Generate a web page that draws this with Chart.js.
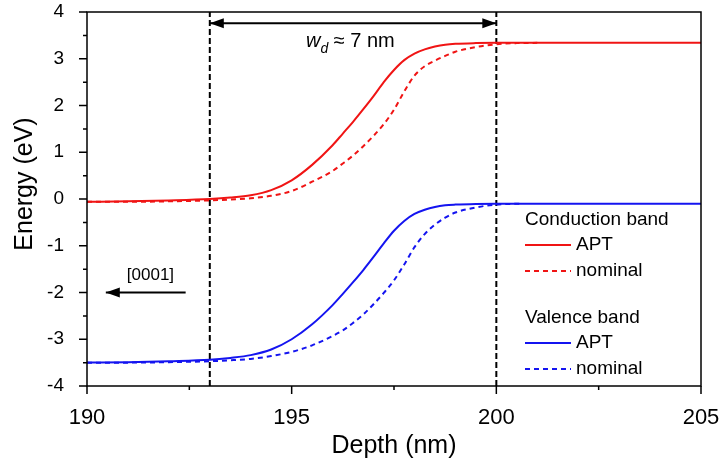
<!DOCTYPE html>
<html>
<head>
<meta charset="utf-8">
<script src="https://cdn.jsdelivr.net/npm/chart.js@4/dist/chart.umd.min.js"></script>
<style>
  html, body { margin: 0; padding: 0; background: #fff; }
  #wrap { width: 722px; height: 467px; }
</style>
</head>
<body>
<div id="wrap"><canvas id="chart" width="722" height="467"></canvas></div>
<script>
// depth positions (nm)
const depthAPT = [190, 191, 192, 193, 193.5, 194, 194.5, 195, 195.5, 196, 196.25, 196.5, 196.75, 197, 197.25, 197.5, 197.75, 198, 198.25, 198.5, 198.75, 199, 199.5, 200, 201, 202, 203, 204, 205];
const depthCbNominal = [190, 191, 192, 193, 193.5, 194, 194.5, 195, 195.5, 196, 196.25, 196.5, 196.75, 197, 197.25, 197.5, 197.75, 198, 198.25, 198.5, 198.75, 199, 199.5, 200, 200.5, 201];
const depthVbNominal = [190, 191, 192, 193, 193.5, 194, 194.5, 195, 195.5, 196, 196.25, 196.5, 196.75, 197, 197.25, 197.5, 197.75, 198, 198.25, 198.5, 198.75, 199, 199.5, 200, 200.6];

// band energies (eV)
const cbAPT = [-0.06, -0.05, -0.03, 0.00, 0.03, 0.08, 0.19, 0.40, 0.73, 1.15, 1.40, 1.65, 1.92, 2.20, 2.50, 2.76, 2.97, 3.11, 3.20, 3.26, 3.30, 3.32, 3.335, 3.34, 3.34, 3.34, 3.34, 3.34, 3.34];
const cbNominal = [-0.06, -0.06, -0.05, -0.03, -0.01, 0.015, 0.07, 0.17, 0.37, 0.60, 0.76, 0.93, 1.13, 1.35, 1.60, 1.91, 2.30, 2.64, 2.84, 2.96, 3.06, 3.15, 3.25, 3.31, 3.335, 3.34];
const vbAPT = [-3.50, -3.49, -3.47, -3.44, -3.40, -3.34, -3.22, -3.00, -2.68, -2.27, -2.03, -1.78, -1.52, -1.24, -0.95, -0.68, -0.47, -0.32, -0.23, -0.17, -0.135, -0.12, -0.105, -0.10, -0.10, -0.10, -0.10, -0.10, -0.10];
const vbNominal = [-3.50, -3.50, -3.49, -3.47, -3.45, -3.42, -3.36, -3.27, -3.13, -2.93, -2.81, -2.65, -2.47, -2.25, -2.01, -1.74, -1.40, -1.03, -0.75, -0.55, -0.40, -0.29, -0.18, -0.12, -0.10];

// depletion width markers
const markerDepths = [193, 200];
const wdArrow = { from: 193, to: 200, y: 3.76 };
const dirArrow = { from: 192.41, to: 190.46, y: -2.0 };
const dirLabel = { text: "[0001]", x: 191.55, y: -1.63 };

const xTicks = [190, 195, 200, 205];
const yTicks = [-4, -3, -2, -1, 0, 1, 2, 3, 4];

const RED = "#f01414";
const BLUE = "#1414f0";
const FONT = "Arial, 'Liberation Sans', sans-serif";

function pts(xs, ys) {
  return xs.map((x, i) => ({ x: x, y: ys[i] }));
}

const markerSets = markerDepths.map(d => ({
  data: [{ x: d, y: -4 }, { x: d, y: 4 }],
  borderColor: "#000",
  borderWidth: 2,
  borderDash: [6, 3],
  pointRadius: 0,
  showLine: true,
}));

const framePlugin = {
  id: "frame",
  afterDraw(chart) {
    const ctx = chart.ctx;
    const a = chart.chartArea;
    const xs = chart.scales.x, ys = chart.scales.y;
    ctx.save();
    ctx.strokeStyle = "#000";
    ctx.lineWidth = 1.5;
    ctx.strokeRect(a.left, a.top, a.right - a.left, a.bottom - a.top);

    // ticks
    ctx.lineWidth = 1.5;
    ctx.beginPath();
    for (let v = -4; v <= 4; v += 0.5) {
      const py = ys.getPixelForValue(v);
      const len = Number.isInteger(v) ? 8 : 4;
      ctx.moveTo(a.left - len, py); ctx.lineTo(a.left, py);
    }
    for (let v = 190; v <= 205; v += 2.5) {
      const px = xs.getPixelForValue(v);
      const len = v % 5 === 0 ? 8 : 4;
      ctx.moveTo(px, a.bottom); ctx.lineTo(px, a.bottom + len);
    }
    ctx.stroke();

    // arrows
    function arrow(x1, x2, y, both) {
      const p1 = xs.getPixelForValue(x1), p2 = xs.getPixelForValue(x2), py = ys.getPixelForValue(y);
      ctx.lineWidth = 2;
      ctx.beginPath();
      ctx.moveTo(p1, py); ctx.lineTo(p2, py);
      ctx.stroke();
      function head(tip, dir) {
        ctx.beginPath();
        ctx.moveTo(tip, py);
        ctx.lineTo(tip - dir * 14, py - 5);
        ctx.lineTo(tip - dir * 14, py + 5);
        ctx.closePath();
        ctx.fill();
      }
      ctx.fillStyle = "#000";
      head(p2, Math.sign(p2 - p1));
      if (both) head(p1, Math.sign(p1 - p2));
    }
    arrow(wdArrow.from, wdArrow.to, wdArrow.y, true);
    arrow(dirArrow.from, dirArrow.to, dirArrow.y, false);

    ctx.fillStyle = "#000";
    ctx.textAlign = "center";
    ctx.textBaseline = "middle";
    ctx.font = "17px " + FONT;
    ctx.fillText(dirLabel.text, xs.getPixelForValue(dirLabel.x), ys.getPixelForValue(dirLabel.y));

    // w_d label
    let tx = 306, ty = 47;
    ctx.textAlign = "left";
    ctx.textBaseline = "alphabetic";
    ctx.font = "italic 20px " + FONT;
    ctx.fillText("w", tx, ty);
    tx += ctx.measureText("w").width;
    ctx.font = "italic 14px " + FONT;
    ctx.fillText("d", tx, ty + 6);
    tx += ctx.measureText("d").width;
    ctx.font = "20px " + FONT;
    ctx.fillText(" \u2248 7 nm", tx, ty);

    // axis titles
    ctx.font = "25px " + FONT;
    ctx.textAlign = "center";
    ctx.textBaseline = "middle";
    ctx.fillText("Depth (nm)", (a.left + a.right) / 2, 446);
    ctx.save();
    ctx.translate(25, 184);
    ctx.rotate(-Math.PI / 2);
    ctx.fillText("Energy (eV)", 0, 0);
    ctx.restore();

    // legend
    ctx.textAlign = "left";
    ctx.textBaseline = "middle";
    ctx.font = "19px " + FONT;
    const lx = 525;
    const groups = [
      { title: "Conduction band", y: 220, color: RED },
      { title: "Valence band", y: 318, color: BLUE },
    ];
    groups.forEach(g => {
      ctx.fillStyle = "#000";
      ctx.fillText(g.title, lx, g.y);
      ctx.fillText("APT", lx + 51, g.y + 25);
      ctx.fillText("nominal", lx + 51, g.y + 51);
      ctx.strokeStyle = g.color;
      ctx.lineWidth = 2;
      ctx.setLineDash([]);
      ctx.beginPath(); ctx.moveTo(lx, g.y + 25); ctx.lineTo(lx + 46, g.y + 25); ctx.stroke();
      ctx.setLineDash([5, 4]);
      ctx.beginPath(); ctx.moveTo(lx, g.y + 51); ctx.lineTo(lx + 46, g.y + 51); ctx.stroke();
      ctx.setLineDash([]);
    });
    ctx.restore();
  }
};

new Chart(document.getElementById("chart").getContext("2d"), {
  type: "scatter",
  data: {
    datasets: [
      { label: "CB APT", data: pts(depthAPT, cbAPT), borderColor: RED, borderWidth: 2, showLine: true, pointRadius: 0, cubicInterpolationMode: "monotone" },
      { label: "CB nominal", data: pts(depthCbNominal, cbNominal), borderColor: RED, borderWidth: 2, borderDash: [5, 4], showLine: true, pointRadius: 0, cubicInterpolationMode: "monotone" },
      { label: "VB APT", data: pts(depthAPT, vbAPT), borderColor: BLUE, borderWidth: 2, showLine: true, pointRadius: 0, cubicInterpolationMode: "monotone" },
      { label: "VB nominal", data: pts(depthVbNominal, vbNominal), borderColor: BLUE, borderWidth: 2, borderDash: [5, 4], showLine: true, pointRadius: 0, cubicInterpolationMode: "monotone" },
      ...markerSets,
    ],
  },
  options: {
    responsive: false,
    animation: false,
    events: [],
    layout: { padding: { left: 0, top: 12, right: 21, bottom: 0 } },
    plugins: { legend: { display: false }, tooltip: { enabled: false } },
    scales: {
      x: {
        type: "linear",
        min: 190,
        max: 205,
        grid: { display: false },
        border: { display: false },
        afterBuildTicks: s => { s.ticks = xTicks.map(v => ({ value: v })); },
        afterFit: s => { s.height = 81; s.paddingLeft = 0; s.paddingRight = 0; },
        ticks: { color: "#000", font: { size: 22, family: FONT }, padding: 11, maxRotation: 0 },
      },
      y: {
        min: -4,
        max: 4,
        grid: { display: false },
        border: { display: false },
        afterBuildTicks: s => { s.ticks = yTicks.map(v => ({ value: v })); },
        afterFit: s => { s.width = 87; s.paddingTop = 0; s.paddingBottom = 0; },
        ticks: { color: "#000", font: { size: 19, family: FONT }, padding: 15 },
      },
    },
  },
  plugins: [framePlugin],
});
</script>
</body>
</html>
